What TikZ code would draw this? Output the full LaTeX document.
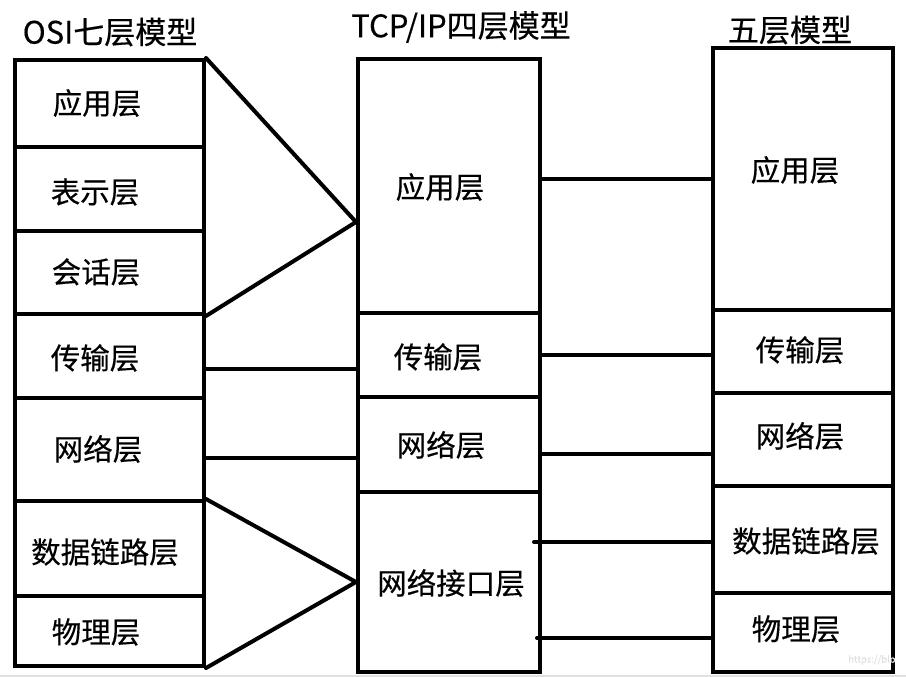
\documentclass[tikz,border=0pt]{standalone}
\usepackage{fontspec}
\setmainfont{Noto Sans CJK SC}[FakeBold=0.4]

\tikzset{
  layer/.style={draw, line width=4pt, inner sep=0pt},
  link/.style={line width=4pt, line cap=round},
  txt/.style={font=\fontsize{29.5}{34}\selectfont, inner sep=0pt},
  title/.style={font=\fontsize{31}{36}\selectfont, inner sep=0pt},
}

\begin{document}
\begin{tikzpicture}[x=1pt,y=-1pt]
\useasboundingbox (0,0) rectangle (906,677);
\fill[black!12] (0,674.5) rectangle (906,677);
% columns
\path (109.5,103.5) node[layer, minimum width=189pt, minimum height=87pt] (osi1) {}
      (109.5,189)   node[layer, minimum width=189pt, minimum height=84pt] (osi2) {}
      (109.5,272.5) node[layer, minimum width=189pt, minimum height=83pt] (osi3) {}
      (109.5,356)   node[layer, minimum width=189pt, minimum height=84pt] (osi4) {}
      (109.5,449.5) node[layer, minimum width=189pt, minimum height=103pt] (osi5) {}
      (109.5,548.5) node[layer, minimum width=189pt, minimum height=95pt] (osi6) {}
      (109.5,631)   node[layer, minimum width=189pt, minimum height=70pt] (osi7) {}
      (449,186)     node[layer, minimum width=182pt, minimum height=254pt] (tcp1) {}
      (449,355)     node[layer, minimum width=182pt, minimum height=84pt] (tcp2) {}
      (449,444.5)   node[layer, minimum width=182pt, minimum height=95pt] (tcp3) {}
      (449,582)     node[layer, minimum width=182pt, minimum height=180pt] (tcp4) {}
      (803,179)     node[layer, minimum width=180pt, minimum height=262pt] (five1) {}
      (803,351.5)   node[layer, minimum width=180pt, minimum height=83pt] (five2) {}
      (803,439.5)   node[layer, minimum width=180pt, minimum height=93pt] (five3) {}
      (803,539.5)   node[layer, minimum width=180pt, minimum height=107pt] (five4) {}
      (803,632.5)   node[layer, minimum width=180pt, minimum height=79pt] (five5) {};
% titles and labels
\path (110,32)  node[title] (osi) {OSI七层模型}
      (461,27)  node[title] (tcp) {TCP/IP四层模型}
      (790,30)  node[title] (five) {五层模型}
      (97,103)  node[txt] {应用层}
      (95,192)  node[txt] {表示层}
      (96,272)  node[txt] {会话层}
      (95,358)  node[txt] {传输层}
      (98,449)  node[txt] {网络层}
      (105,552) node[txt] {数据链路层}
      (96,632)  node[txt] {物理层}
      (440,187) node[txt] {应用层}
      (438,357) node[txt] {传输层}
      (441,445) node[txt] {网络层}
      (451,583) node[txt] {网络接口层}
      (795,170) node[txt] {应用层}
      (800,350) node[txt] {传输层}
      (800,436) node[txt] {网络层}
      (806,541) node[txt] {数据链路层}
      (796,629) node[txt] {物理层};
% OSI -> TCP/IP
\draw[link] (osi1.north east) -- ([yshift=-36pt]tcp1.west) -- (osi3.south east);
\draw[link] ([yshift=-13pt]osi4.east) coordinate (a1) -- (a1 -| tcp2.west);
\draw[link] ([yshift=-8.5pt]osi5.east) coordinate (a2) -- (a2 -| tcp3.west);
\draw[link] (osi6.north east) -- (tcp4.west) -- (osi7.south east);
% TCP/IP -> five
\draw[link] (tcp1.east |- five1.west) -- (five1.west);
\draw[link] (tcp2.east) -- (tcp2.east -| five2.west);
\draw[link] ([yshift=-9.5pt]tcp3.east) coordinate (b1) -- (b1 -| five3.west);
\draw[link] ([yshift=-2.5pt]five4.west) coordinate (b2) -- ([xshift=-8pt]b2 -| tcp4.east);
\draw[link] ([yshift=-5.5pt]five5.west) coordinate (b3) -- ([xshift=-5pt]b3 -| tcp4.east);
\node[font=\fontsize{9.5}{11}\selectfont, text=black!12, anchor=west, inner sep=0pt] (mark) at (848,660) {https://blo};
\end{tikzpicture}
\end{document}
